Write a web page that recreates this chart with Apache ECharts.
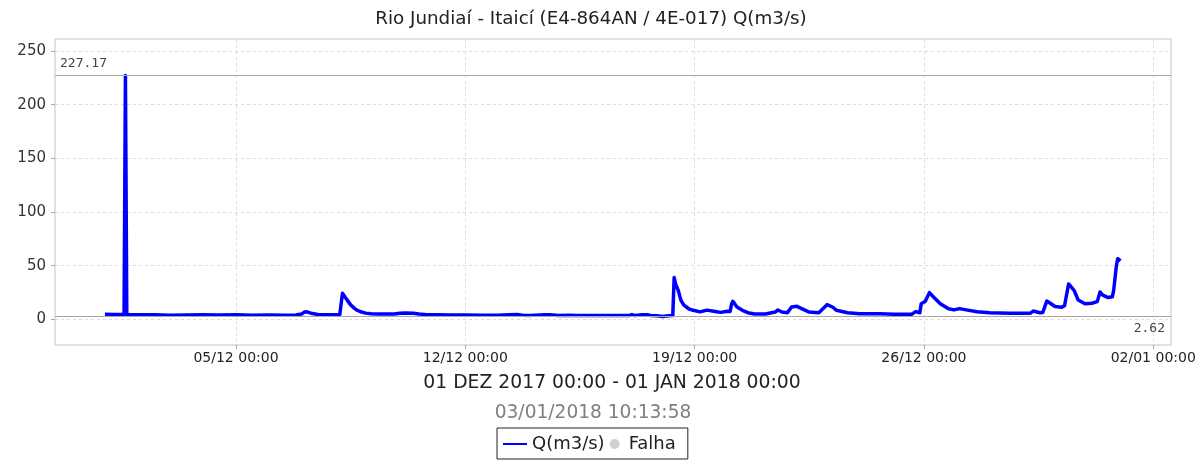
<!DOCTYPE html>
<html>
<head>
<meta charset="utf-8">
<script src="https://cdn.jsdelivr.net/npm/echarts@6/dist/echarts.min.js"></script>
<style>
  html, body { margin: 0; padding: 0; background: #fff; }
  #chart { width: 1200px; height: 460px; }
</style>
</head>
<body>
<div id="chart"></div>
<script>
// Flow readings: hours since 01/12/2017 00:00 and discharge Q (m3/s)
const sampleHours = [
  0, 6, 12, 14, 15, 16, 20, 24, 36, 48, 60, 72, 84, 96, 108, 120, 132, 140,
  144, 146, 148, 152, 156, 164, 172, 173, 174, 176, 178, 180, 183, 185, 188, 191,
  195, 200, 206, 212, 216, 220, 226, 230, 236, 244, 252, 264, 276, 288, 296, 302,
  306, 312, 322, 326, 332, 340, 346, 360, 372, 384, 386, 388, 394, 397, 400, 404,
  409, 411, 416, 417, 418, 420, 422, 424, 426, 428, 431, 436, 441, 446, 451, 456,
  458, 459, 460, 463, 467, 471, 476, 484, 491, 493, 496, 500, 503, 507, 512, 516,
  523, 526, 529, 533, 536, 544, 553, 568, 578, 591, 594, 597, 598, 601, 604, 607,
  612, 618, 622, 626, 632, 639, 648, 663, 678, 680, 685, 687, 690, 692, 696, 701,
  703, 706, 707, 710, 713, 718, 723, 727, 729, 731, 735, 738, 739, 741, 742, 743, 744
];
const flowValues = [
  4.8, 4.6, 4.5, 4.6, 227.17, 4.4, 4.3, 4.2, 4.3, 3.9, 4.1, 4.3, 4.0, 4.2, 3.9, 4.1, 3.8, 4.0,
  4.9, 6.8, 7.0, 5.4, 4.6, 4.4, 4.3, 4.4, 24.3, 20.5, 17.0, 13.5, 10.0, 8.3, 6.8, 5.8,
  5.2, 5.0, 4.9, 5.0, 5.6, 5.8, 5.7, 4.9, 4.4, 4.2, 4.1, 4.0, 3.9, 3.9, 4.4, 4.5,
  3.9, 3.7, 4.4, 4.3, 3.6, 3.9, 3.5, 3.5, 3.6, 3.5, 4.4, 3.6, 4.3, 4.2, 3.5, 3.4,
  2.62, 3.2, 3.5, 39.0, 33.0, 27.0, 17.7, 13.5, 11.5, 9.6, 8.4, 7.0, 8.6, 7.5, 6.5, 7.5,
  7.3, 14.0, 16.8, 11.5, 8.4, 6.2, 5.0, 5.0, 6.8, 8.7, 6.8, 6.2, 11.5, 12.1, 9.0, 6.8,
  6.2, 9.9, 13.7, 11.5, 8.4, 6.2, 5.3, 5.3, 4.7, 4.7, 7.2, 6.2, 14.6, 16.8, 24.9, 20.8,
  14.6, 9.9, 8.8, 10.0, 8.6, 7.1, 6.2, 5.7, 5.7, 7.8, 6.2, 6.3, 17.0, 15.5, 12.0, 11.2,
  12.7, 33.0, 34.0, 27.0, 18.0, 14.5, 15.0, 16.5, 25.5, 22.5, 20.3, 21.0, 27.0, 50.0, 56.5, 55.0, 54.5
];

// Period maximum and minimum markers
const maxFlow = 227.17;
const minFlow = 2.62;

// Axis ticks
const xTickHours = [96, 264, 432, 600, 768];
const xTickLabels = ['05/12 00:00', '12/12 00:00', '19/12 00:00', '26/12 00:00', '02/01 00:00'];
const yTickValues = [0, 50, 100, 150, 200, 250];

// Texts
const chartTitle = 'Rio Jundiaí - Itaicí (E4-864AN / 4E-017) Q(m3/s)';
const periodText = '01 DEZ 2017 00:00 - 01 JAN 2018 00:00';
const stampText = '03/01/2018 10:13:58';
const seriesName = 'Q(m3/s)';
const failName = 'Falha';

const font = '"DejaVu Sans", sans-serif';
const flowData = sampleHours.map((h, i) => [h, flowValues[i]]);

const chart = echarts.init(document.getElementById('chart'), null, { renderer: 'canvas' });

chart.setOption({
  backgroundColor: '#ffffff',
  animation: false,
  grid: {
    left: 55, right: 29, top: 39, bottom: 115,
    show: true, borderColor: '#c4c4c4', borderWidth: 1, backgroundColor: 'transparent'
  },
  graphic: [
    { type: 'text', x: 591, y: 19, style: { text: chartTitle, textAlign: 'center', textVerticalAlign: 'middle', font: '18.3px ' + font, fill: '#222' } },
    { type: 'text', x: 612, y: 383, style: { text: periodText, textAlign: 'center', textVerticalAlign: 'middle', font: '18.8px ' + font, fill: '#222' } },
    { type: 'text', x: 593, y: 413, style: { text: stampText, textAlign: 'center', textVerticalAlign: 'middle', font: '18.6px ' + font, fill: '#808080' } }
  ],
  legend: {
    left: 497, top: 428,
    padding: [7, 12, 6, 6],
    borderColor: '#222', borderWidth: 1,
    itemWidth: 24, itemHeight: 10, itemGap: 5,
    textStyle: { fontFamily: font, fontSize: 18, color: '#222' },
    data: [
      { name: seriesName, icon: 'path://M0,0 H24 V2 H0 Z', itemStyle: { color: '#0000ff' } },
      { name: failName, icon: 'circle', textStyle: { padding: [0, 0, 0, -3] } }
    ]
  },
  xAxis: {
    type: 'value',
    min: -36.6, max: 781,
    axisLine: { show: false, onZero: false },
    axisTick: { show: true, length: 4, lineStyle: { color: '#aaa' }, customValues: xTickHours },
    axisLabel: {
      customValues: xTickHours,
      margin: 6,
      fontFamily: font, fontSize: 14, color: '#222',
      formatter: v => xTickLabels[xTickHours.indexOf(v)] || ''
    },
    splitLine: { show: true, lineStyle: { color: '#dcdcdc', type: [3, 3], width: 1 } }
  },
  yAxis: {
    type: 'value',
    min: -23.9, max: 261.2,
    axisLine: { show: false, onZero: false },
    axisTick: { show: true, length: 4, lineStyle: { color: '#aaa' }, customValues: yTickValues },
    axisLabel: {
      customValues: yTickValues,
      margin: 9,
      fontFamily: font, fontSize: 15, color: '#333'
    },
    splitLine: { show: true, lineStyle: { color: '#dcdcdc', type: [3, 3], width: 1 } }
  },
  series: [
    {
      name: seriesName,
      type: 'line',
      data: flowData,
      symbol: 'none',
      showSymbol: false,
      color: '#0000ff',
      lineStyle: { color: '#0000ff', width: 3.5, join: 'round' },
      markLine: {
        silent: true,
        symbol: 'none',
        animation: false,
        lineStyle: { color: '#a8a8a8', type: 'solid', width: 1 },
        label: { fontFamily: '"DejaVu Sans Mono", monospace', fontSize: 13, color: '#444', formatter: p => String(p.value) },
        data: [
          { yAxis: maxFlow, label: { position: 'insideStartTop', distance: [5, 5] } },
          { yAxis: minFlow, label: { position: 'insideEndBottom', distance: [6, 6] } }
        ]
      }
    },
    {
      name: failName,
      type: 'scatter',
      data: [],
      symbol: 'circle',
      color: '#c4c4c4'
    }
  ]
});
</script>
</body>
</html>
